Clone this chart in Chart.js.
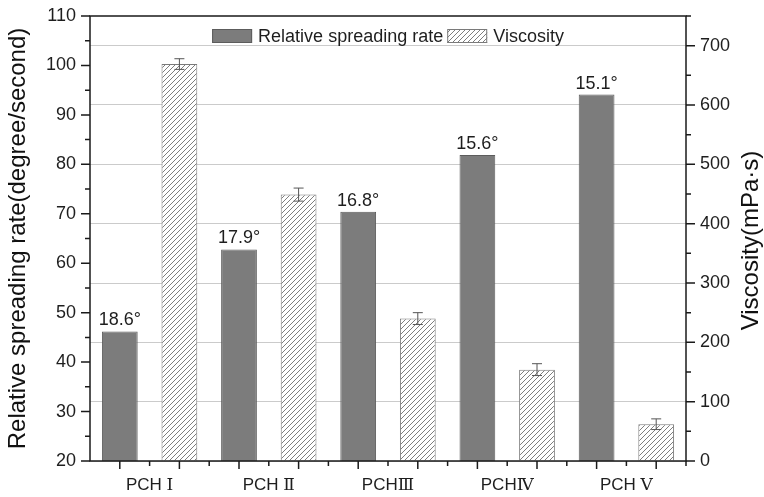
<!DOCTYPE html>
<html>
<head>
<meta charset="utf-8">
<title>Spreading rate and viscosity</title>
<script src="https://cdn.jsdelivr.net/npm/chart.js@4.4.1/dist/chart.umd.min.js"></script>
<style>
	html, body { margin: 0; padding: 0; background: #fff; }
	#wrap { width: 764px; height: 497px; }
</style>
</head>
<body>
<div id="wrap"><canvas id="myChart" width="764" height="497"></canvas></div>
<script>
// values
var categories = ['PCH Ⅰ', 'PCH Ⅱ', 'PCHⅢ', 'PCHⅣ', 'PCH Ⅴ'];
var spreadingRate = [46.2, 62.8, 70.4, 81.9, 94.1];
var viscosity = [669, 449, 240, 154, 62];
var viscosityErr = [9, 11, 10, 10, 9];
var contactAngles = ['18.6°', '17.9°', '16.8°', '15.6°', '15.1°'];
var leftTicks = [20, 110, 10];
var rightTicks = [0, 750, 100];

var sans = "'Liberation Sans', Arial, sans-serif";
var darkFill = '#7c7c7c';
var darkEdge = '#5c5c5c';

function makeHatch() {
	var s = 5;
	var c = document.createElement('canvas');
	c.width = s;
	c.height = s;
	var g = c.getContext('2d');
	g.fillStyle = '#ffffff';
	g.fillRect(0, 0, s, s);
	g.strokeStyle = '#7e7e7e';
	g.lineWidth = 1;
	g.beginPath();
	g.moveTo(0, s); g.lineTo(s, 0);
	g.moveTo(-1, 1); g.lineTo(1, -1);
	g.moveTo(s - 1, s + 1); g.lineTo(s + 1, s - 1);
	g.stroke();
	return g.createPattern(c, 'repeat');
}
var hatch = makeHatch();

// keep the plot box where the figure has it
function noEdgePadding(scale) {
	scale.paddingTop = 0;
	scale.paddingBottom = 0;
}

// frame, ticks, error bars, labels, legend, right title
var originAxes = {
	id: 'originAxes',
	afterDatasetsDraw: function(chart) {
		var ctx = chart.ctx;
		var a = chart.chartArea;
		var xs = chart.scales.x;
		var yl = chart.scales.y;
		var yr = chart.scales.y1;
		var darkMeta = chart.getDatasetMeta(0);
		var hatchMeta = chart.getDatasetMeta(1);
		var i, v, x, y;

		ctx.save();

		// error bars on viscosity
		ctx.strokeStyle = '#555';
		ctx.lineWidth = 1;
		for (i = 0; i < viscosity.length; i++) {
			x = hatchMeta.data[i].x;
			var yt = yr.getPixelForValue(viscosity[i] + viscosityErr[i]);
			var yb = yr.getPixelForValue(viscosity[i] - viscosityErr[i]);
			ctx.beginPath();
			ctx.moveTo(x, yt); ctx.lineTo(x, yb);
			ctx.moveTo(x - 5, yt); ctx.lineTo(x + 5, yt);
			ctx.moveTo(x - 5, yb); ctx.lineTo(x + 5, yb);
			ctx.stroke();
		}

		// contact angle labels above the dark bars
		ctx.fillStyle = '#1e1e1e';
		ctx.font = '18px ' + sans;
		ctx.textAlign = 'center';
		ctx.textBaseline = 'alphabetic';
		for (i = 0; i < contactAngles.length; i++) {
			var bar = darkMeta.data[i];
			ctx.fillText(contactAngles[i], bar.x, bar.y - 6);
		}

		// frame
		ctx.strokeStyle = '#1a1a1a';
		ctx.lineWidth = 1.5;
		ctx.strokeRect(a.left, a.top, a.right - a.left, a.bottom - a.top);

		// left ticks (major 10, minor 5)
		ctx.beginPath();
		for (v = leftTicks[0]; v <= leftTicks[1]; v += leftTicks[2] / 2) {
			y = yl.getPixelForValue(v);
			var len = (v % leftTicks[2] === 0) ? 9 : 5;
			ctx.moveTo(a.left, y); ctx.lineTo(a.left - len, y);
		}
		// right ticks (major 100, minor 50)
		for (v = rightTicks[0]; v <= rightTicks[1]; v += rightTicks[2] / 2) {
			y = yr.getPixelForValue(v);
			var len2 = (v % rightTicks[2] === 0) ? 9 : 5;
			ctx.moveTo(a.right, y); ctx.lineTo(a.right + len2, y);
		}
		// bottom ticks: long under each bar, short at group centers and edges
		var step = (xs.right - xs.left) / categories.length;
		for (i = 0; i < categories.length; i++) {
			var bx = [darkMeta.data[i].x, hatchMeta.data[i].x];
			for (var k = 0; k < 2; k++) {
				ctx.moveTo(bx[k], a.bottom); ctx.lineTo(bx[k], a.bottom + 8);
			}
			var cx = xs.getPixelForValue(i);
			ctx.moveTo(cx, a.bottom); ctx.lineTo(cx, a.bottom + 5);
			ctx.moveTo(cx + step / 2, a.bottom); ctx.lineTo(cx + step / 2, a.bottom + 5);
		}
		ctx.stroke();

		// legend inside the plot
		ctx.font = '18px ' + sans;
		ctx.textAlign = 'left';
		ctx.textBaseline = 'middle';
		var items = chart.data.datasets;
		var boxW = 40, boxH = 14, gapBox = 6, gapItem = 4;
		var total = 0;
		for (i = 0; i < items.length; i++) {
			total += boxW + gapBox + ctx.measureText(items[i].label).width;
			if (i > 0) total += gapItem;
		}
		var lx = (a.left + a.right) / 2 - total / 2;
		var ly = a.top + 20;
		for (i = 0; i < items.length; i++) {
			ctx.fillStyle = items[i].backgroundColor;
			ctx.fillRect(lx, ly - boxH / 2, boxW, boxH);
			ctx.strokeStyle = items[i].borderColor;
			ctx.lineWidth = 1;
			ctx.strokeRect(lx + 0.5, ly - boxH / 2 + 0.5, boxW - 1, boxH - 1);
			ctx.fillStyle = '#1e1e1e';
			ctx.fillText(items[i].label, lx + boxW + gapBox, ly + 1);
			lx += boxW + gapBox + ctx.measureText(items[i].label).width + gapItem;
		}

		// right axis title reads bottom to top
		ctx.translate(751, (a.top + a.bottom) / 2 + 2);
		ctx.rotate(-Math.PI / 2);
		ctx.textAlign = 'center';
		ctx.textBaseline = 'middle';
		ctx.font = '24px ' + sans;
		ctx.fillStyle = '#111';
		ctx.fillText('Viscosity(mPa·s)', 0, 0);

		ctx.restore();
	}
};

var ctx = document.getElementById('myChart');
var myChart = new Chart(ctx, {
	type: 'bar',
	data: {
		labels: categories,
		datasets: [{
			label: 'Relative spreading rate',
			data: spreadingRate,
			yAxisID: 'y',
			backgroundColor: darkFill,
			borderColor: darkEdge,
			borderWidth: 1
		}, {
			label: 'Viscosity',
			data: viscosity,
			yAxisID: 'y1',
			backgroundColor: hatch,
			borderColor: '#7a7a7a',
			borderWidth: 1
		}]
	},
	options: {
		responsive: false,
		animation: false,
		devicePixelRatio: 1,
		categoryPercentage: 1.0,
		barPercentage: 0.6,
		layout: { padding: { top: 16, left: 0, right: 0, bottom: 0 } },
		plugins: {
			legend: { display: false },
			tooltip: { enabled: false }
		},
		scales: {
			x: {
				grid: { display: false, drawTicks: false },
				border: { display: false },
				ticks: {
					color: '#1e1e1e',
					padding: 14,
					font: { family: "'Liberation Sans', 'DejaVu Serif', serif", size: 17 }
				},
				afterFit: function(scale) { scale.height = 36; }
			},
			y: {
				position: 'left',
				min: leftTicks[0],
				max: leftTicks[1],
				ticks: {
					stepSize: leftTicks[2],
					color: '#1e1e1e',
					padding: 14,
					font: { family: sans, size: 18 }
				},
				grid: { drawOnChartArea: false, drawTicks: false },
				border: { display: false },
				title: {
					display: true,
					text: 'Relative spreading rate(degree/second)',
					color: '#111',
					font: { family: sans, size: 24 },
					padding: { top: 4, bottom: 0 }
				},
				afterFit: function(scale) {
					scale.width = 90;
					noEdgePadding(scale);
				}
			},
			y1: {
				position: 'right',
				min: rightTicks[0],
				max: rightTicks[1],
				ticks: {
					stepSize: rightTicks[2],
					color: '#1e1e1e',
					padding: 14,
					font: { family: sans, size: 18 }
				},
				afterBuildTicks: function(scale) {
					scale.ticks = scale.ticks.filter(function(t) { return t.value <= 700; });
				},
				grid: { color: '#cbcbcb', lineWidth: 1, drawTicks: false },
				border: { display: false },
				afterFit: function(scale) {
					scale.width = 78;
					noEdgePadding(scale);
				}
			}
		}
	},
	plugins: [originAxes]
});
</script>
</body>
</html>
